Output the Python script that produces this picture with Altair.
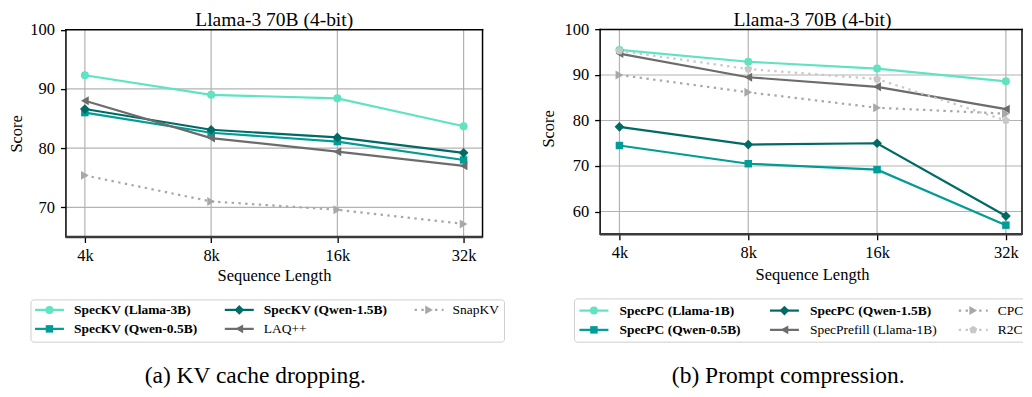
import json
import altair as alt
import pandas as pd

# ---------------- data ----------------
x_labels = ['4k', '8k', '16k', '32k']

# (a) KV cache dropping
a_names = ['SpecKV (Llama-3B)', 'SpecKV (Qwen-0.5B)', 'SpecKV (Qwen-1.5B)', 'LAQ++', 'SnapKV']
a_llama3b = [92.3, 89.0, 88.4, 83.7]
a_qwen05 = [86.0, 82.6, 81.1, 78.0]
a_qwen15 = [86.6, 83.1, 81.8, 79.2]
a_laq = [88.0, 81.7, 79.4, 77.0]
a_snapkv = [75.4, 71.0, 69.6, 67.2]
a_values = [a_llama3b, a_qwen05, a_qwen15, a_laq, a_snapkv]
a_yticks = [70, 80, 90, 100]

# (b) Prompt compression
b_names = ['SpecPC (Llama-1B)', 'SpecPC (Qwen-0.5B)', 'SpecPC (Qwen-1.5B)',
           'SpecPrefill (Llama-1B)', 'CPC', 'R2C']
b_llama1b = [95.5, 92.9, 91.4, 88.6]
b_qwen05 = [74.5, 70.5, 69.2, 57.0]
b_qwen15 = [78.6, 74.7, 75.0, 59.0]
b_specprefill = [94.7, 89.5, 87.4, 82.5]
b_cpc = [90.0, 86.2, 82.8, 81.5]
b_r2c = [95.3, 91.3, 89.1, 80.0]
b_values = [b_llama1b, b_qwen05, b_qwen15, b_specprefill, b_cpc, b_r2c]
b_yticks = [60, 70, 80, 90, 100]

titles = ['Llama-3 70B (4-bit)', 'Llama-3 70B (4-bit)']
captions = ['(a) KV cache dropping.', '(b) Prompt compression.']
x_title = 'Sequence Length'
y_title = 'Score'

# ---------------- styles ----------------
FONT = 'Liberation Serif'
C_LLAMA = '#5fe3c0'
C_Q05 = '#009c98'
C_Q15 = '#006a65'
C_GDARK = '#6c6c6c'
C_GMID = '#a8a8a8'
C_GLIGHT = '#c8c8c8'
PENTAGON = 'M0,-1L0.951,-0.309L0.588,0.809L-0.588,0.809L-0.951,-0.309Z'
DOTS = [2.4, 4.4]

# color, shape, size, dotted, bold
a_styles = [
    (C_LLAMA, 'circle', 64, 0, 1),
    (C_Q05, 'square', 56, 0, 1),
    (C_Q15, 'diamond', 95, 0, 1),
    (C_GDARK, 'triangle-left', 80, 0, 0),
    (C_GMID, 'triangle-right', 80, 1, 0),
]
b_styles = [
    (C_LLAMA, 'circle', 64, 0, 1),
    (C_Q05, 'square', 56, 0, 1),
    (C_Q15, 'diamond', 95, 0, 1),
    (C_GDARK, 'triangle-left', 80, 0, 0),
    (C_GMID, 'triangle-right', 80, 1, 0),
    (C_GLIGHT, PENTAGON, 70, 1, 0),
]

H = 381
TITLE_SIZE = 19.5

panels = [
    dict(w=512, names=a_names, values=a_values, styles=a_styles, yticks=a_yticks,
         ydom=[65, 100], xdom=[-0.15, 3.15], xr=[58, 475], yr=[229, 21.5],
         title=titles[0], title_xy=(266.5, 17.6),
         xlab_xy=(266.7, 273.5), ylab_xy=(14.5, 125.8),
         box=(23, 497, 292, 334.3), col_x=[27, 217, 407], col_tx=[66, 256, 445],
         row_y=[302, 321], caption=captions[0], cap_xy=(247.5, 375.5)),
    dict(w=504, names=b_names, values=b_values, styles=b_styles, yticks=b_yticks,
         ydom=[55, 100], xdom=[-0.15, 3.125], xr=[80.7, 503], yr=[226.3, 21.3],
         title=titles[1], title_xy=(293.3, 17.6),
         xlab_xy=(293.3, 272.5), ylab_xy=(35, 120.8),
         box=(55, 540, 291, 334.3), col_x=[60, 250.7, 439.7], col_tx=[100, 290.7, 478.7],
         row_y=[302.7, 322], caption=captions[1], cap_xy=(269, 375.5)),
]


def text_layer(txt, xy, size, angle=0, align='center', baseline='alphabetic', clip=False, weight='normal'):
    kw = dict(text=txt, font=FONT, fontSize=size, align=align, baseline=baseline,
              color='black', fontWeight=weight, clip=clip)
    if angle:
        kw['angle'] = angle
    return alt.Chart(pd.DataFrame({'d': [0]})).mark_text(**kw).encode(
        x=alt.value(xy[0]), y=alt.value(xy[1]))


def build_panel(p):
    XDOM = p['xdom']
    xs = alt.Scale(domain=XDOM, range=p['xr'], nice=False, zero=False)
    ys = alt.Scale(domain=p['ydom'], range=p['yr'], nice=False, zero=False)
    ymin, ymax = p['ydom']
    xoff = p['yr'][0] - H
    yoff = -p['xr'][0]
    layers = []

    # vertical grid lines, carrying the x axis
    gx = pd.DataFrame({'xi': [0, 1, 2, 3], 'y0': ymin, 'y1': ymax})
    layers.append(alt.Chart(gx).mark_rule(color='#b3b3b3', strokeWidth=1.2).encode(
        x=alt.X('xi:Q', scale=xs, axis=alt.Axis(
            values=[0, 1, 2, 3], labelExpr=json.dumps(x_labels) + '[datum.value]',
            title=None, grid=False, domain=False, offset=xoff, tickSize=5.5,
            tickWidth=1.3, tickColor='black', labelFont=FONT, labelFontSize=16.5,
            labelColor='black', labelPadding=5, labelFlush=False, labelOverlap=False)),
        y=alt.Y('y0:Q', scale=ys, axis=None), y2='y1:Q'))

    # horizontal grid lines, carrying the y axis
    gy = pd.DataFrame({'yv': [v for v in p['yticks'] if v < ymax], 'x0': XDOM[0], 'x1': XDOM[1]})
    layers.append(alt.Chart(gy).mark_rule(color='#b3b3b3', strokeWidth=1.2).encode(
        y=alt.Y('yv:Q', scale=ys, axis=alt.Axis(
            values=p['yticks'], format='d', title=None, grid=False, domain=False,
            offset=yoff, tickSize=5.5, tickWidth=1.3, tickColor='black', labelFont=FONT,
            labelFontSize=16.5, labelColor='black', labelPadding=6, labelFlush=False,
            labelOverlap=False)),
        x=alt.X('x0:Q', scale=xs, axis=None), x2='x1:Q'))

    # series
    for name, vals, st in zip(p['names'], p['values'], p['styles']):
        color, shape, size, dotted, _ = st
        df = pd.DataFrame({'xi': [0, 1, 2, 3], 'score': vals, 'series': name})
        line_kw = dict(color=color, strokeWidth=2.2)
        if dotted:
            line_kw['strokeDash'] = DOTS
        layers.append(alt.Chart(df).mark_line(**line_kw).encode(
            x=alt.X('xi:Q', scale=xs, axis=None), y=alt.Y('score:Q', scale=ys, axis=None)))
        layers.append(alt.Chart(df).mark_point(filled=True, shape=shape, size=size,
                                               color=color, opacity=1, strokeWidth=0).encode(
            x=alt.X('xi:Q', scale=xs, axis=None), y=alt.Y('score:Q', scale=ys, axis=None),
            tooltip=['series:N', 'score:Q']))

    # frame (spines)
    fr = pd.DataFrame({
        'x0': [XDOM[0], XDOM[1], XDOM[0]], 'x1': [XDOM[1], XDOM[1], XDOM[0]],
        'y0': [ymax, ymin, ymin], 'y1': [ymax, ymax, ymax]})
    layers.append(alt.Chart(fr).mark_rule(color='black', strokeWidth=1.5, strokeCap='square').encode(
        x=alt.X('x0:Q', scale=xs, axis=None), x2='x1:Q',
        y=alt.Y('y0:Q', scale=ys, axis=None), y2='y1:Q'))
    fb = pd.DataFrame({'x0': [XDOM[0]], 'x1': [XDOM[1]], 'y0': [ymin]})
    layers.append(alt.Chart(fb).mark_rule(color='#3a3a3a', strokeWidth=2.4).encode(
        x=alt.X('x0:Q', scale=xs, axis=None), x2='x1:Q',
        y=alt.Y('y0:Q', scale=ys, axis=None)))

    # titles
    layers.append(text_layer(p['title'], p['title_xy'], TITLE_SIZE))
    layers.append(text_layer(x_title, p['xlab_xy'], 16.5))
    layers.append(text_layer(y_title, p['ylab_xy'], 16.5, angle=270))

    # legend (entries fill columns of two rows, like matplotlib ncol=3)
    rows = []
    for i, (name, st) in enumerate(zip(p['names'], p['styles'])):
        color, shape, size, dotted, bold = st
        c, r = i // 2, i % 2
        x1 = p['col_x'][c]
        rows.append(dict(name=name, color=color, shape=shape, size=size, dotted=dotted,
                         bold=bold, lx1=x1, lx2=x1 + 29, mx=x1 + 14.5,
                         tx=p['col_tx'][c], ly=p['row_y'][r]))
    leg = pd.DataFrame(rows)
    bx = pd.DataFrame({'bx1': [p['box'][0]], 'bx2': [p['box'][1]],
                       'by1': [p['box'][2]], 'by2': [p['box'][3]]})
    layers.append(alt.Chart(bx).mark_rect(fill='white', stroke='#cfcfcf', strokeWidth=1,
                                          cornerRadius=3, clip=True).encode(
        x=alt.X('bx1:Q', scale=None, axis=None), x2='bx2:Q',
        y=alt.Y('by1:Q', scale=None, axis=None), y2='by2:Q'))
    for dotted in (0, 1):
        kw = dict(strokeWidth=2.2)
        if dotted:
            kw['strokeDash'] = DOTS
        layers.append(alt.Chart(leg).transform_filter(f'datum.dotted == {dotted}').mark_rule(**kw).encode(
            x=alt.X('lx1:Q', scale=None, axis=None), x2='lx2:Q',
            y=alt.Y('ly:Q', scale=None, axis=None),
            color=alt.Color('color:N', scale=None)))
    layers.append(alt.Chart(leg).mark_point(filled=True, opacity=1, strokeWidth=0).encode(
        x=alt.X('mx:Q', scale=None, axis=None), y=alt.Y('ly:Q', scale=None, axis=None),
        color=alt.Color('color:N', scale=None), shape=alt.Shape('shape:N', scale=None),
        size=alt.Size('size:Q', scale=None)))
    for bold in (1, 0):
        layers.append(alt.Chart(leg).transform_filter(f'datum.bold == {bold}').mark_text(
            align='left', baseline='middle', font=FONT, fontSize=13.5, color='black',
            fontWeight='bold' if bold else 'normal', clip=True).encode(
            x=alt.X('tx:Q', scale=None, axis=None), y=alt.Y('ly:Q', scale=None, axis=None),
            text='name:N'))

    # caption
    layers.append(text_layer(p['caption'], p['cap_xy'], 23.5, clip=True))

    return alt.layer(*layers).properties(width=p['w'], height=H).resolve_scale(
        x='independent', y='independent')


chart = alt.hconcat(build_panel(panels[0]), build_panel(panels[1]), spacing=0,
                    bounds='flush').properties(padding=0, background='white').configure_view(
    strokeWidth=0)

chart.save('out.html', embed_options={'renderer': 'svg', 'actions': False})
